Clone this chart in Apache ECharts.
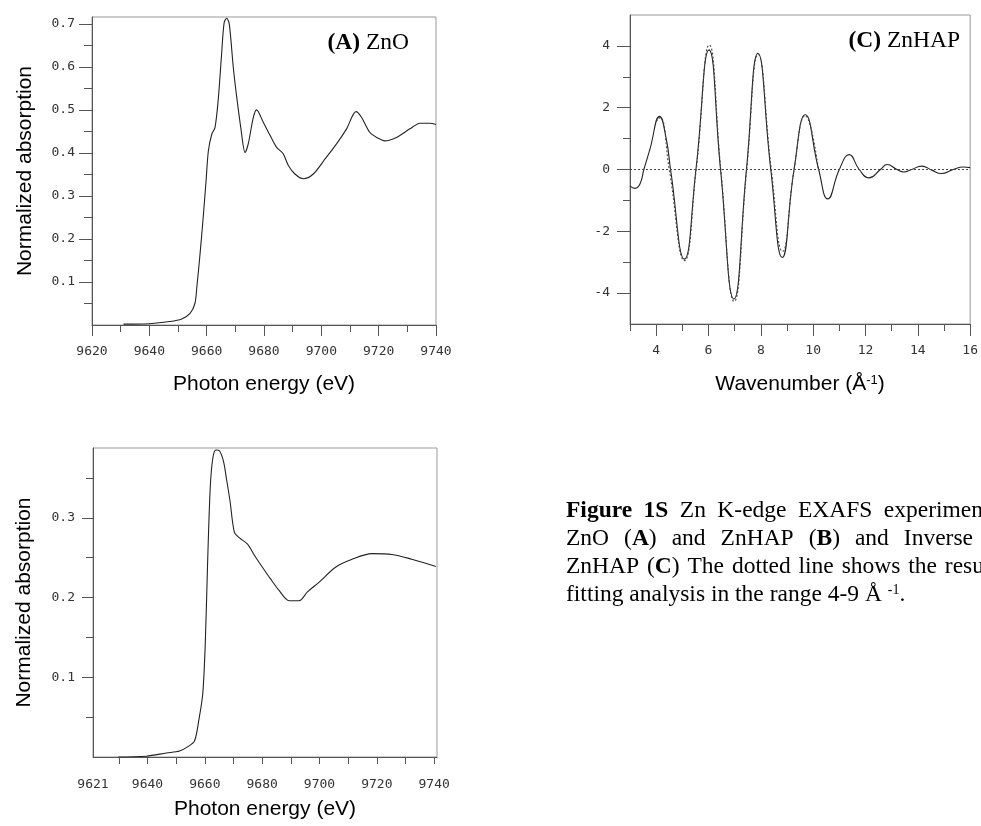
<!DOCTYPE html>
<html>
<head>
<meta charset="utf-8">
<script src="https://cdn.jsdelivr.net/npm/echarts@6/dist/echarts.min.js"></script>
<style>
html,body{margin:0;padding:0;background:#fff;}
#main{width:981px;height:826px;}
</style>
</head>
<body>
<div id="main"></div>
<script>
// (A) ZnO XANES
var energyA = [9631, 9640, 9647.2, 9651.3, 9654.2, 9655.9, 9656.6, 9657.7, 9658.8, 9659.8, 9660.6, 9661.8, 9662.9, 9664.0, 9665.2, 9666.1, 9667.0, 9667.9, 9669.3, 9670.5, 9671.9, 9673.4, 9674.5, 9676.3, 9677.4, 9679.7, 9682.1, 9684.4, 9686.7, 9688.5, 9690.8, 9693.7, 9697.2, 9701.3, 9705.3, 9708.8, 9712.1, 9714.0, 9716.9, 9719.3, 9722.2, 9726.2, 9730.9, 9734.4, 9737.9, 9740];
var absorbA = [0.002, 0.003, 0.008, 0.014, 0.027, 0.05, 0.09, 0.166, 0.251, 0.336, 0.405, 0.444, 0.459, 0.521, 0.629, 0.703, 0.713, 0.699, 0.598, 0.529, 0.459, 0.401, 0.421, 0.483, 0.500, 0.472, 0.441, 0.413, 0.398, 0.371, 0.351, 0.340, 0.351, 0.386, 0.421, 0.456, 0.496, 0.483, 0.448, 0.436, 0.428, 0.436, 0.456, 0.469, 0.469, 0.466];

// (B) ZnHAP XANES
var energyB = [9629.8, 9639.6, 9646.6, 9651.2, 9654.1, 9656.4, 9657.9, 9659.3, 9660.2, 9661.0, 9661.9, 9662.8, 9663.9, 9665.1, 9666.5, 9667.6, 9668.8, 9670.3, 9672.0, 9674.9, 9677.3, 9680.1, 9683.0, 9685.9, 9689.4, 9692.9, 9695.8, 9699.8, 9705.6, 9711.4, 9718.3, 9725.3, 9732.2, 9740.6];
var absorbB = [0.0, 0.001, 0.005, 0.0075, 0.013, 0.020, 0.046, 0.080, 0.146, 0.246, 0.338, 0.375, 0.385, 0.384, 0.371, 0.348, 0.321, 0.282, 0.275, 0.267, 0.253, 0.238, 0.223, 0.209, 0.196, 0.196, 0.207, 0.219, 0.238, 0.248, 0.255, 0.254, 0.248, 0.239];

// (C) ZnHAP inverse FT, experiment (solid) and fit (dotted)
var kExp = [3.0, 3.19, 3.38, 3.53, 3.76, 4.13, 4.39, 4.55, 5.08, 5.52, 6.02, 6.46, 6.97, 7.45, 7.89, 8.38, 8.82, 9.27, 9.70, 10.21, 10.56, 11.0, 11.38, 11.76, 12.13, 12.57, 12.83, 13.2, 13.46, 13.77, 14.15, 14.53, 14.9, 15.35, 15.73, 16.0];
var chiExp = [-0.54, -0.61, -0.47, 0, 0.65, 1.72, 0.97, 0, -2.9, 0, 3.87, 0, -4.19, 0, 3.76, 0, -2.85, 0, 1.77, 0, -0.95, 0, 0.48, 0, -0.27, 0, 0.16, 0, -0.08, 0.0, 0.11, -0.02, -0.13, 0.0, 0.08, 0.06];
var kFit = [4.0, 4.15, 4.5, 5.08, 5.53, 6.03, 6.47, 6.98, 7.46, 7.9, 8.4, 8.83, 9.27, 9.7, 10.2];
var chiFit = [1.55, 1.68, 0, -2.95, 0, 4.03, 0, -4.27, 0, 3.72, 0, -2.65, 0, 1.74, 0];

// tick labels / tick positions
var labelsAx = [9620, 9640, 9660, 9680, 9700, 9720, 9740];
var minorAx = [9630, 9650, 9670, 9690, 9710, 9730];
var labelsAy = [0.1, 0.2, 0.3, 0.4, 0.5, 0.6, 0.7];
var minorAy = [0.05, 0.15, 0.25, 0.35, 0.45, 0.55, 0.65];
var labelsBx = [9621, 9640, 9660, 9680, 9700, 9720, 9740];
var ticksBx = [9630, 9640, 9650, 9660, 9670, 9680, 9690, 9700, 9710, 9720, 9730, 9740];
var labelsBy = [0.1, 0.2, 0.3];
var minorBy = [0.05, 0.15, 0.25, 0.35];
var labelsCx = [4, 6, 8, 10, 12, 14, 16];
var minorCx = [3, 5, 7, 9, 11, 13, 15];
var labelsCy = [-4, -2, 0, 2, 4];
var minorCy = [-3, -1, 1, 3];

var captionLines = [
	['{b|Figure}', '{b|1S}', 'Zn', 'K-edge', 'EXAFS', 'experimen'],
	['ZnO', '({b|A})', 'and', 'ZnHAP', '({b|B})', 'and', 'Inverse'],
	['ZnHAP', '({b|C})', 'The', 'dotted', 'line', 'shows', 'the', 'resu'],
	['fitting analysis in the range 4-9 Å {s|-1}.']
];

var myChart = echarts.init(document.getElementById('main'));

var AXIS = '#555';
var SERIF = 'Liberation Serif';
var FS = 23.5;
var tickFont = {color: '#333', fontFamily: 'DejaVu Sans Mono', fontSize: 13};
var titleFont = {color: '#000', fontFamily: 'Liberation Sans', fontSize: 21};

// 主轴: 标签 + 长刻度
function mainAxis(pos, grid, min, max, labels, ticks, len, margin, name, gap) {
	return {
		type: 'value', gridIndex: grid, position: pos, min: min, max: max,
		axisLine: {show: true, onZero: false, lineStyle: {color: AXIS, width: 1}},
		axisTick: {show: true, customValues: ticks, length: len, lineStyle: {color: AXIS}},
		axisLabel: Object.assign({
			customValues: labels, margin: margin,
			formatter: function (v) { return String(v); }
		}, tickFont),
		splitLine: {show: false},
		name: name, nameLocation: 'middle', nameGap: gap,
		nameTextStyle: Object.assign({rich: {s: {fontSize: 13, verticalAlign: 'top', fontFamily: 'Liberation Sans'}}}, titleFont)
	};
}
// 副轴: 只画短刻度
function minorAxis(pos, grid, min, max, ticks, len) {
	return {
		type: 'value', gridIndex: grid, position: pos, min: min, max: max,
		axisLine: {show: false, onZero: false},
		axisTick: {show: true, customValues: ticks, length: len, lineStyle: {color: AXIS}},
		axisLabel: {show: false},
		splitLine: {show: false}
	};
}
function pairs(xs, ys) {
	return xs.map(function (x, i) { return [x, ys[i]]; });
}

var gridStyle = {show: true, borderColor: '#999', borderWidth: 1, containLabel: false};

var option = {
	animation: false,
	backgroundColor: '#fff',
	grid: [
		Object.assign({left: 92, top: 17, width: 344, height: 308}, gridStyle),
		Object.assign({left: 630, top: 15, width: 344, height: 309}, gridStyle),
		Object.assign({left: 93, top: 448, width: 344, height: 309}, gridStyle)
	],
	xAxis: [
		mainAxis('bottom', 0, 9620, 9740, labelsAx, labelsAx, 11, 20, 'Photon energy (eV)', 49),
		minorAxis('bottom', 0, 9620, 9740, minorAx, 7),
		mainAxis('bottom', 1, 3, 16, labelsCx, labelsCx, 12, 20, 'Wavenumber (Å{s|-1})', 50),
		minorAxis('bottom', 1, 3, 16, minorCx, 7),
		mainAxis('bottom', 2, 9621, 9741, labelsBx, ticksBx, 7, 21, 'Photon energy (eV)', 42),
		minorAxis('bottom', 2, 9621, 9741, [], 7)
	],
	yAxis: [
		mainAxis('left', 0, 0, 0.716, labelsAy, labelsAy, 13, 17, 'Normalized absorption', 56),
		minorAxis('left', 0, 0, 0.716, minorAy, 8),
		mainAxis('left', 1, -5, 5, labelsCy, labelsCy, 13, 20, '', 0),
		minorAxis('left', 1, -5, 5, minorCy, 7),
		mainAxis('left', 2, 0, 0.3875, labelsBy, labelsBy, 11, 18, 'Normalized absorption', 58),
		minorAxis('left', 2, 0, 0.3875, minorBy, 7)
	],
	series: [
		{
			name: 'ZnO', type: 'line', xAxisIndex: 0, yAxisIndex: 0,
			data: pairs(energyA, absorbA), showSymbol: false, smooth: 0.3,
			lineStyle: {color: '#222', width: 1.1}
		},
		{
			name: 'ZnHAP exp', type: 'line', xAxisIndex: 2, yAxisIndex: 2,
			data: pairs(kExp, chiExp), showSymbol: false, smooth: 0.5,
			lineStyle: {color: '#222', width: 1.1}
		},
		{
			name: 'ZnHAP fit', type: 'line', xAxisIndex: 2, yAxisIndex: 2,
			data: pairs(kFit, chiFit), showSymbol: false, smooth: 0.5,
			lineStyle: {color: '#444', width: 1.1, type: [2, 2]},
			markLine: {
				silent: true, symbol: 'none', label: {show: false},
				lineStyle: {color: '#444', width: 1, type: [2, 2]},
				data: [{yAxis: 0}]
			}
		},
		{
			name: 'ZnHAP', type: 'line', xAxisIndex: 4, yAxisIndex: 4,
			data: pairs(energyB, absorbB), showSymbol: false, smooth: 0.3,
			lineStyle: {color: '#222', width: 1.1}
		}
	],
	graphic: []
};

var richSerif = {
	b: {fontWeight: 'bold', fontFamily: SERIF, fontSize: FS},
	s: {fontFamily: SERIF, fontSize: 14, verticalAlign: 'top'}
};

// 面板标签
option.graphic.push({
	type: 'text', x: 409, y: 43,
	style: {text: '{b|(A)} ZnO', align: 'right', verticalAlign: 'middle',
		font: FS + 'px "' + SERIF + '"', fill: '#000', rich: richSerif}
});
option.graphic.push({
	type: 'text', x: 960, y: 41,
	style: {text: '{b|(C)} ZnHAP', align: 'right', verticalAlign: 'middle',
		font: FS + 'px "' + SERIF + '"', fill: '#000', rich: richSerif}
});

// 图注: 两端对齐排版
var ctx = document.createElement('canvas').getContext('2d');
function wordWidth(w) {
	var width = 0;
	w.split(/(\{b\|[^}]*\})/).forEach(function (p) {
		if (!p) return;
		var m = p.match(/^\{b\|([^}]*)\}$/);
		ctx.font = (m ? 'bold ' : '') + FS + 'px "' + SERIF + '"';
		width += ctx.measureText(m ? m[1] : p).width;
	});
	return width;
}
var captionLeft = 566;
var captionRight = [983, 973, 984, 0];
var captionY = [511, 539, 567, 595];
captionLines.forEach(function (words, li) {
	var x = captionLeft;
	var gap = 0;
	if (words.length > 1) {
		var total = 0;
		words.forEach(function (w) { total += wordWidth(w); });
		gap = (captionRight[li] - captionLeft - total) / (words.length - 1);
	}
	words.forEach(function (w) {
		option.graphic.push({
			type: 'text', x: x, y: captionY[li],
			style: {
				text: w, align: 'left', verticalAlign: 'middle',
				font: FS + 'px "' + SERIF + '"', fill: '#000', rich: richSerif
			}
		});
		x += wordWidth(w) + gap;
	});
});

myChart.setOption(option);
</script>
</body>
</html>
